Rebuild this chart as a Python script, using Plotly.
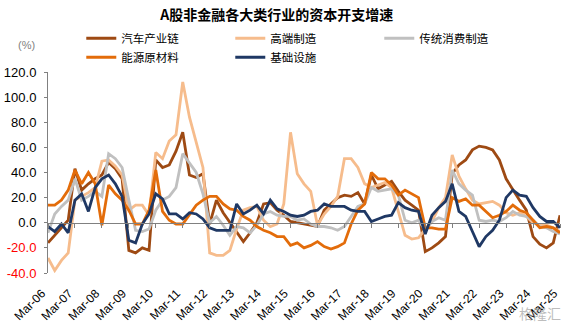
import plotly.graph_objects as go

# Quarterly periods, Mar-06 .. Mar-25
years = list(range(6, 26))
months = ["Mar", "Jun", "Sep", "Dec"]
periods = [f"{m}-{y:02d}" for y in years for m in months][:77]
year_ticks = [f"Mar-{y:02d}" for y in years]

# Capex growth (%) by sector
auto_chain = [-16, -10, -4, 2, 43, 26, 31, 35, 38, 48, 43, 35, -22, -24, -20, -22,
              50, 44, 46, 57, 72, 38, 36, 39, -1, 18, 8, 0, -8, -15, -8, 0,
              15, 16, 10, 6, 1, 0, -1, -2, -3, 10, 15, 20, 22, 21, 24, 15,
              38, 27, 30, 33, 25, 18, 14, 10, -23, -20, -16, -11, 39, 46, 50, 58,
              61, 60, 58, 50, 35, 26, 18, 10, -11, -17, -20, -16, 6]
high_end = [-28, -38, -30, -24, 18, 21, 24, 28, 49, 50, 45, 38, 10, 14, 14, 6,
            56, 51, 65, 70, 112, 84, 63, 44, -24, -26, -26, -22, -5, 10, 12, 13,
            2, -3, -1, 15, 72, 39, 31, 25, -2, 7, 13, 21, 51, 51, 44, 31,
            28, 30, 32, 28, 10, -10, -13, -12, -5, 1, 12, 20, 54, 37, 27, 18,
            15, 16, 17, 14, 8, 6, 8, 5, 0, -2, -2, -4, -7]
traditional = [-8, 7, 13, 18, 35, 18, 21, 25, 21, 55, 51, 44, 18, -6, -7, -5,
               10, 18, 21, 28, 55, 47, 40, 23, 0, 5, -2, -10, -3, -4, -8, -2,
               7, 9, 6, 5, 5, 2, 3, -1, -3, -3, -4, -6, -3, 5, 13, 15,
               28, 25, 26, 27, 22, 2, 0, 2, -6, 1, 4, 2, 42, 31, 26, 22,
               2, 1, 2, 1, 4, 9, 6, 5, 2, -3, -4, -7, -9]
energy = [14, 14, 18, 26, 42, 31, 40, 31, -2, 30, 23, 18, 10, -1, -1, 10,
          42, 9, 2, -1, -1, 7, 14, 18, 21, 21, 15, 11, 10, 5, 2, -3,
          -6, -8, -11, -11, -18, -16, -20, -18, -15, -19, -21, -19, -16, -1, 10, 15,
          40, 35, 35, 30, 22, 26, 23, 20, -4, -4, -5, -5, 20, 17, 19, 14,
          14, 9, 4, 6, 9, 14, 10, 8, 2, -4, -3, -4, -8]
infra = [-3, -7, -1, -8, 18, 23, 9, 28, 35, 38, 31, 21, -14, -16, -1, 7,
         23, 19, 7, 7, 3, 8, 7, 3, -4, -6, -6, -6, 15, 7, 10, 14,
         7, 18, 11, 9, 6, 5, 6, 9, 10, 15, 13, 13, 13, 10, 9, 9,
         1, 3, 5, 6, 16, 12, 10, 9, -9, 6, 12, 17, 31, 9, 5, -7,
         -19, -11, -6, 2, 20, 26, 22, 21, 12, 5, 1, 1, -4]

series = [
    ("汽车产业链", auto_chain, "#9E4A13"),
    ("高端制造", high_end, "#F6BC8C"),
    ("传统消费制造", traditional, "#C0C0C0"),
    ("能源原材料", energy, "#E36C0A"),
    ("基础设施", infra, "#1F3864"),
]

y_vals = list(range(-40, 121, 20))
y_text = [f"<span style='color:#FF0000'>{v:.1f}</span>" if v < 0 else f"{v:.1f}" for v in y_vals]

fig = go.Figure()
for name, vals, color in series:
    fig.add_trace(go.Scatter(x=periods, y=vals, name=name, mode="lines",
                             line=dict(color=color, width=2.8)))

# invisible carrier for the zero-line axis
fig.add_trace(go.Scatter(x=periods, y=infra, xaxis="x2", mode="lines",
                         line=dict(width=0), opacity=0, showlegend=False,
                         hoverinfo="skip"))

cjk = "Noto Sans CJK SC"
latin = "Liberation Sans, Arial"

fig.update_layout(
    width=578, height=332,
    margin=dict(l=48, r=18, t=72, b=59, autoexpand=False),
    plot_bgcolor="white", paper_bgcolor="white",
    font=dict(family=latin, size=12, color="#000000"),
    title=dict(text="<b>A股非金融各大类行业的资本开支增速</b>",
               font=dict(family=cjk, size=14, color="#000000"),
               xref="container", x=0.479, xanchor="center",
               yref="container", y=0.955, yanchor="middle"),
    showlegend=True,
    legend=dict(orientation="h", x=0.065, xanchor="left", y=1.24, yanchor="top",
                entrywidth=104, entrywidthmode="pixels",
                font=dict(family=cjk, size=11.5, color="#000000"),
                tracegroupgap=0, bgcolor="rgba(0,0,0,0)"),
    xaxis=dict(type="category", categoryorder="array", categoryarray=periods,
               range=[0, 76], anchor="y", side="bottom", automargin=False,
               showline=False, ticks="", tickvals=year_ticks, ticktext=year_ticks,
               tickangle=-45, ticklabelstandoff=10, ticklabelshift=-6,
               tickfont=dict(family=latin, size=12, color="#000000"),
               showgrid=False, zeroline=False),
    xaxis2=dict(type="category", categoryorder="array", categoryarray=periods,
                range=[0, 76], overlaying="x", anchor="free", position=0.25,
                automargin=False,
                showline=True, linecolor="#808080", linewidth=1,
                ticks="outside", ticklen=4, tickcolor="#808080",
                tickvals=year_ticks, showticklabels=False,
                showgrid=False, zeroline=False),
    yaxis=dict(range=[-40, 120], tickvals=y_vals, ticktext=y_text, automargin=False,
               showline=True, linecolor="#808080", linewidth=1,
               ticks="outside", ticklen=3, tickcolor="#808080",
               ticklabelstandoff=5,
               tickfont=dict(family=latin, size=13, color="#000000"),
               showgrid=False, zeroline=False),
    annotations=[
        dict(text="(%)", xref="paper", yref="paper", x=-0.042, y=1.134,
             xanchor="center", yanchor="middle", showarrow=False,
             font=dict(family=latin, size=11, color="#7F7F7F")),
        dict(text="格隆汇", xref="paper", yref="paper", x=0.961, y=-0.2,
             xanchor="center", yanchor="middle", showarrow=False,
             font=dict(family=cjk, size=14, color="rgba(160,160,160,0.7)")),
    ],
)

fig.write_html("out.html")
